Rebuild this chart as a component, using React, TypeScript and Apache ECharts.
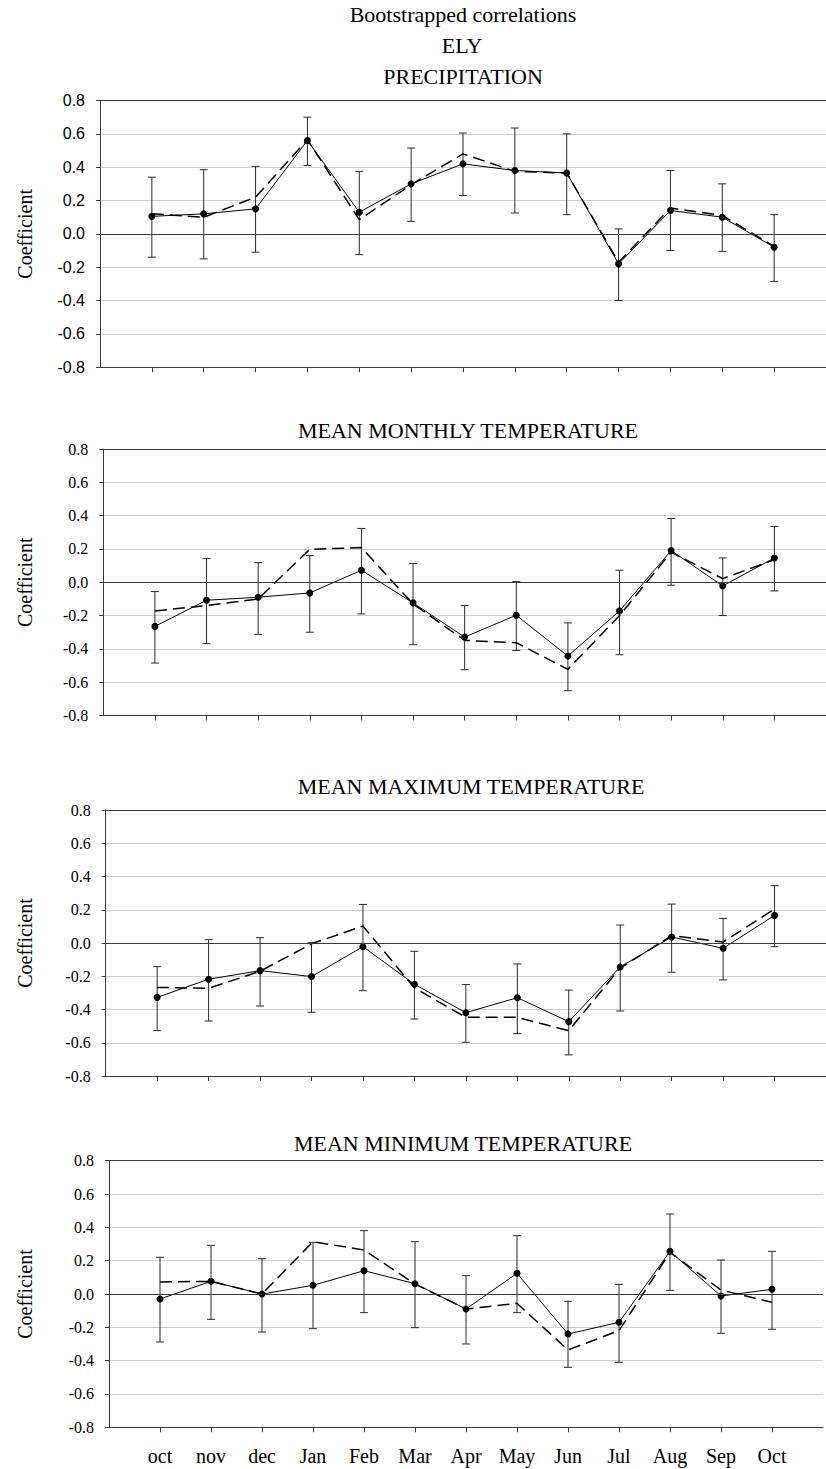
import React, { useEffect, useRef } from "react";
import * as echarts from "echarts";

// ---------- data ----------
const months = ["oct", "nov", "dec", "Jan", "Feb", "Mar", "Apr", "May", "Jun", "Jul", "Aug", "Sep", "Oct"];
const yTicks = [-0.8, -0.6, -0.4, -0.2, 0.0, 0.2, 0.4, 0.6, 0.8];

const panelTitles = ["PRECIPITATION", "MEAN MONTHLY TEMPERATURE", "MEAN MAXIMUM TEMPERATURE", "MEAN MINIMUM TEMPERATURE"];

// Precipitation
const precipSolid = [0.105, 0.12, 0.15, 0.56, 0.13, 0.30, 0.42, 0.38, 0.365, -0.18, 0.14, 0.10, -0.08];
const precipDashed = [0.12, 0.10, 0.22, 0.565, 0.085, 0.295, 0.48, 0.375, 0.365, -0.17, 0.155, 0.11, -0.075];
const precipUpper = [0.34, 0.385, 0.405, 0.70, 0.375, 0.515, 0.605, 0.635, 0.60, 0.03, 0.38, 0.30, 0.115];
const precipLower = [-0.14, -0.15, -0.11, 0.41, -0.125, 0.075, 0.23, 0.125, 0.115, -0.40, -0.10, -0.105, -0.285];

// Mean monthly temperature
const meanSolid = [-0.265, -0.108, -0.09, -0.064, 0.072, -0.124, -0.329, -0.198, -0.443, -0.172, 0.19, -0.022, 0.146];
const meanDashed = [-0.172, -0.14, -0.10, 0.198, 0.208, -0.13, -0.349, -0.363, -0.523, -0.20, 0.18, 0.022, 0.135];
const meanUpper = [-0.056, 0.142, 0.118, 0.16, 0.323, 0.112, -0.14, 0.004, -0.244, 0.072, 0.383, 0.146, 0.335];
const meanLower = [-0.485, -0.369, -0.313, -0.30, -0.19, -0.375, -0.525, -0.41, -0.651, -0.435, -0.018, -0.20, -0.052];

// Mean maximum temperature
const maxSolid = [-0.327, -0.218, -0.166, -0.202, -0.022, -0.248, -0.419, -0.329, -0.473, -0.144, 0.036, -0.032, 0.166];
const maxDashed = [-0.267, -0.273, -0.17, -0.005, 0.102, -0.27, -0.447, -0.447, -0.527, -0.15, 0.044, 0.006, 0.204];
const maxUpper = [-0.142, 0.02, 0.032, 0.002, 0.232, -0.05, -0.25, -0.126, -0.283, 0.108, 0.234, 0.148, 0.345];
const maxLower = [-0.527, -0.469, -0.379, -0.417, -0.287, -0.457, -0.597, -0.545, -0.673, -0.409, -0.176, -0.222, -0.022];

// Mean minimum temperature
const minSolid = [-0.03, 0.076, 0.0, 0.052, 0.14, 0.062, -0.09, 0.124, -0.24, -0.17, 0.256, -0.012, 0.028];
const minDashed = [0.072, 0.076, 0.0, 0.314, 0.264, 0.06, -0.09, -0.056, -0.336, -0.22, 0.25, 0.024, -0.05];
const minUpper = [0.22, 0.292, 0.212, 0.31, 0.38, 0.314, 0.11, 0.35, -0.044, 0.058, 0.48, 0.204, 0.256];
const minLower = [-0.288, -0.152, -0.228, -0.208, -0.112, -0.202, -0.30, -0.112, -0.44, -0.41, 0.022, -0.236, -0.212];

const panels = [
  { title: panelTitles[0], solid: precipSolid, dashed: precipDashed, upper: precipUpper, lower: precipLower },
  { title: panelTitles[1], solid: meanSolid, dashed: meanDashed, upper: meanUpper, lower: meanLower },
  { title: panelTitles[2], solid: maxSolid, dashed: maxDashed, upper: maxUpper, lower: maxLower },
  { title: panelTitles[3], solid: minSolid, dashed: minDashed, upper: minUpper, lower: minLower },
];

// ---------- layout ----------
const layout = [
  { left: 100, top: 100.5, height: 266.7, titleX: 463, titleY: 76, labelFont: "Liberation Sans" },
  { left: 103.3, top: 449, height: 266.5, titleX: 468, titleY: 430, labelFont: "Liberation Serif" },
  { left: 105.7, top: 810, height: 266, titleX: 471, titleY: 786, labelFont: "Liberation Serif" },
  { left: 109, top: 1160.7, height: 266.6, titleX: 463, titleY: 1143.5, labelFont: "Liberation Serif" },
];
const PLOT_W = 731;

export default function App() {
  const ref = useRef<HTMLDivElement>(null);

  useEffect(() => {
    if (!ref.current) return;
    const chart = echarts.init(ref.current, undefined, { renderer: "svg" });
    const cats = ["", ...months, ""];

    const grid: any[] = [];
    const xAxis: any[] = [];
    const yAxis: any[] = [];
    const series: any[] = [];
    const graphic: any[] = [];

    const serif = "Liberation Serif";
    const axisColor = "#3a3a3a";
    const txt = (text: string, x: number, y: number, size: number, extra: any = {}) => ({
      type: "text",
      x,
      y,
      ...extra,
      style: {
        text,
        fontSize: size,
        fontFamily: serif,
        fill: "#000",
        align: "center",
        verticalAlign: "middle",
        textAlign: "center",
        textVerticalAlign: "middle",
      },
    });

    graphic.push(txt("Bootstrapped correlations", 463, 14, 22), txt("ELY", 462, 45.5, 22));

    panels.forEach((p, k) => {
      const L = layout[k];
      grid.push({ left: L.left, top: L.top, width: PLOT_W, height: L.height });
      // bottom category axis
      xAxis.push({
        type: "category",
        gridIndex: k,
        position: "bottom",
        data: cats,
        boundaryGap: false,
        axisLine: { show: true, onZero: false, lineStyle: { color: axisColor, width: 1 } },
        axisTick: {
          show: true,
          length: 5,
          interval: (i: number) => i > 0 && i < cats.length - 1,
          lineStyle: { color: axisColor },
        },
        axisLabel: {
          show: k === 3,
          interval: 0,
          margin: 19,
          fontFamily: serif,
          fontSize: 20,
          color: "#000",
        },
        splitLine: { show: false },
      });
      // top frame line
      xAxis.push({
        type: "category",
        gridIndex: k,
        position: "top",
        data: cats,
        boundaryGap: false,
        axisLine: { show: true, onZero: false, lineStyle: { color: axisColor, width: 1 } },
        axisTick: { show: false },
        axisLabel: { show: false },
        splitLine: { show: false },
      });
      yAxis.push({
        type: "value",
        gridIndex: k,
        min: yTicks[0],
        max: yTicks[yTicks.length - 1],
        interval: 0.2,
        axisLine: { show: true, lineStyle: { color: axisColor, width: 1 } },
        axisTick: { show: true, length: 4, lineStyle: { color: axisColor } },
        axisLabel: {
          margin: 15,
          fontFamily: L.labelFont,
          fontSize: 16,
          color: "#000",
          formatter: (v: number) => (Math.abs(v) < 1e-9 ? "0.0" : v.toFixed(1)),
        },
        splitLine: { show: true, lineStyle: { color: "#cfcfcf", width: 1 } },
      });

      const xi = 2 * k;
      // error bars
      series.push({
        type: "custom",
        xAxisIndex: xi,
        yAxisIndex: k,
        z: 2,
        silent: true,
        data: months.map((_, i) => [i + 1, p.upper[i], p.lower[i]]),
        encode: { x: 0, y: [1, 2] },
        renderItem: (params: any, api: any) => {
          const xv = api.value(0);
          const hi = api.coord([xv, api.value(1)]);
          const lo = api.coord([xv, api.value(2)]);
          const cap = 4;
          const st = { stroke: "#2a2a2a", lineWidth: 1 };
          return {
            type: "group",
            children: [
              { type: "line", shape: { x1: hi[0], y1: hi[1], x2: lo[0], y2: lo[1] }, style: st },
              { type: "line", shape: { x1: hi[0] - cap, y1: hi[1], x2: hi[0] + cap, y2: hi[1] }, style: st },
              { type: "line", shape: { x1: lo[0] - cap, y1: lo[1], x2: lo[0] + cap, y2: lo[1] }, style: st },
            ],
          };
        },
      });
      // dashed series
      series.push({
        type: "line",
        xAxisIndex: xi,
        yAxisIndex: k,
        z: 3,
        symbol: "none",
        silent: true,
        data: months.map((_, i) => [i + 1, p.dashed[i]]),
        lineStyle: { color: "#000", width: 1.5, type: [12, 6] },
      });
      // solid series
      series.push({
        type: "line",
        xAxisIndex: xi,
        yAxisIndex: k,
        z: 4,
        symbol: "circle",
        symbolSize: 7,
        silent: true,
        data: months.map((_, i) => [i + 1, p.solid[i]]),
        lineStyle: { color: "#000", width: 1 },
        itemStyle: { color: "#000" },
        markLine: {
          silent: true,
          symbol: ["none", "none"],
          label: { show: false },
          lineStyle: { color: axisColor, type: "solid", width: 1 },
          data: [{ yAxis: 0 }],
        },
      });

      graphic.push(txt(p.title, L.titleX, L.titleY, 22));
      graphic.push(txt("Coefficient", 25, L.top + L.height / 2, 20, { rotation: Math.PI / 2 }));
    });

    chart.setOption({
      animation: false,
      backgroundColor: "#fff",
      grid,
      xAxis,
      yAxis,
      series,
      graphic,
    });

    return () => chart.dispose();
  }, []);

  return <div ref={ref} style={{ position: "absolute", left: 0, top: 0, width: 826, height: 1469 }} />;
}
